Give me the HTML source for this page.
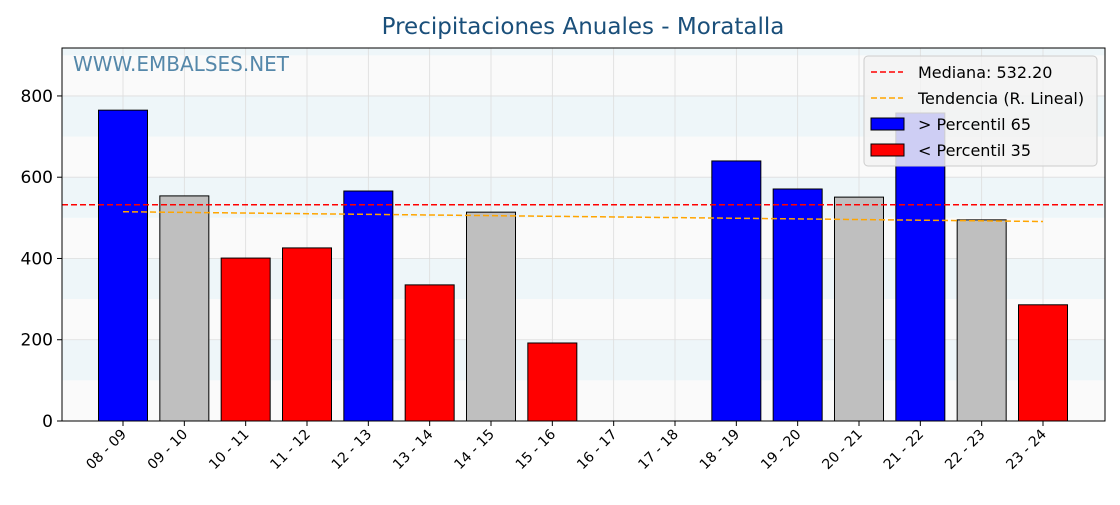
<!DOCTYPE html>
<html><head><meta charset="utf-8"><style>
body{margin:0;background:#fff;font-family:"Liberation Sans","DejaVu Sans",sans-serif}
svg text{font-family:"DejaVu Sans","Liberation Sans",sans-serif}
</style></head><body>
<svg id="c" width="1120" height="500"></svg>
<script>
const categories=["08 - 09","09 - 10","10 - 11","11 - 12","12 - 13","13 - 14","14 - 15","15 - 16","16 - 17","17 - 18","18 - 19","19 - 20","20 - 21","21 - 22","22 - 23","23 - 24"];
const values=[765,554,401,426,566,335,514,192,0,0,640,571,551,758,495,286];
const yTicks=[0,200,400,600,800];
const median=532.2;
const trendStart=515, trendEnd=491;
const p65=560, p35=450;
const NS="http://www.w3.org/2000/svg";
const svg=document.getElementById('c');
const L=62,R=1105,T=48,B=421,yMax=918;
const y=v=>B-(v/yMax)*(B-T);
const x0=123,step=(1043-123)/15;
const x=i=>x0+i*step;
function el(t,a,p){const e=document.createElementNS(NS,t);for(const k in a)e.setAttribute(k,a[k]);(p||svg).appendChild(e);return e;}
// title
let t=el('text',{x:583,y:34,'text-anchor':'middle','font-size':23,fill:'#1a4f7a'});t.textContent="Precipitaciones Anuales - Moratalla";

// bands
for(let v=0;v<yMax;v+=100){const r=el('rect',{x:L,y:y(Math.min(v+100,yMax)),width:R-L,height:y(v)-y(Math.min(v+100,yMax)),fill:(v/100)%2?'#eef6f9':'#fafafa'});
}
// grid
categories.forEach((c,i)=>{el('line',{x1:x(i),x2:x(i),y1:T,y2:B,stroke:'#ddd','stroke-width':0.8});});
yTicks.forEach(v=>{el('line',{x1:L,x2:R,y1:y(v),y2:y(v),stroke:'#ddd','stroke-width':0.8});});
// watermark
t=el('text',{x:73,y:71,'font-size':20,fill:'#5588aa'});t.textContent="WWW.EMBALSES.NET";

// bars
values.forEach((v,i)=>{if(v<=0)return;const col=v>p65?'#0000ff':(v<p35?'#ff0000':'#bfbfbf');
const r=el('rect',{x:x(i)-24.5,y:y(v),width:49,height:B-y(v),fill:col,stroke:'#000','stroke-width':1});
});
// median
let m=el('line',{x1:L,x2:R,y1:y(median),y2:y(median),stroke:'#ff0000','stroke-width':1.5,'stroke-dasharray':'6,3'});

let tr=el('line',{x1:x(0),x2:x(15),y1:y(trendStart),y2:y(trendEnd),stroke:'#ffa500','stroke-width':1.5,'stroke-dasharray':'6,3'});

// axes frame
el('rect',{x:L,y:T,width:R-L,height:B-T,fill:'none',stroke:'#000','stroke-width':1});
yTicks.forEach(v=>{el('line',{x1:L-5,x2:L,y1:y(v),y2:y(v),stroke:'#000'});
const tt=el('text',{x:L-9,y:y(v)+6,'text-anchor':'end','font-size':17,fill:'#000'});tt.textContent=v;
});
categories.forEach((c,i)=>{el('line',{x1:x(i),x2:x(i),y1:B,y2:B+5,stroke:'#000'});
const tt=el('text',{x:x(i)+4,y:B+14,'text-anchor':'end','font-size':14,fill:'#000',transform:`rotate(-45 ${x(i)+4} ${B+14})`});tt.textContent=c;
});
// legend
const g=el('g',{});
el('rect',{x:864,y:56,width:233,height:110,rx:4,fill:'#f2f2f2','fill-opacity':0.85,stroke:'#ccc'},g);
const items=[['line','#ff0000','Mediana: 532.20'],['line','#ffa500','Tendencia (R. Lineal)'],['box','#0000ff','  > Percentil 65'],['box','#ff0000','  < Percentil 35']];
items.forEach((it,k)=>{const yy=72+k*26;
if(it[0]=='line')el('line',{x1:871,x2:903,y1:yy,y2:yy,stroke:it[1],'stroke-width':1.5,'stroke-dasharray':'6,3'},g);
else el('rect',{x:871,y:yy-6,width:33,height:12,fill:it[1],stroke:'#000'},g);
const tt=el('text',{x:918,y:yy+6,'font-size':16,fill:'#000','xml:space':'preserve'},g);tt.textContent=it[2];
});
</script>
</body></html>
